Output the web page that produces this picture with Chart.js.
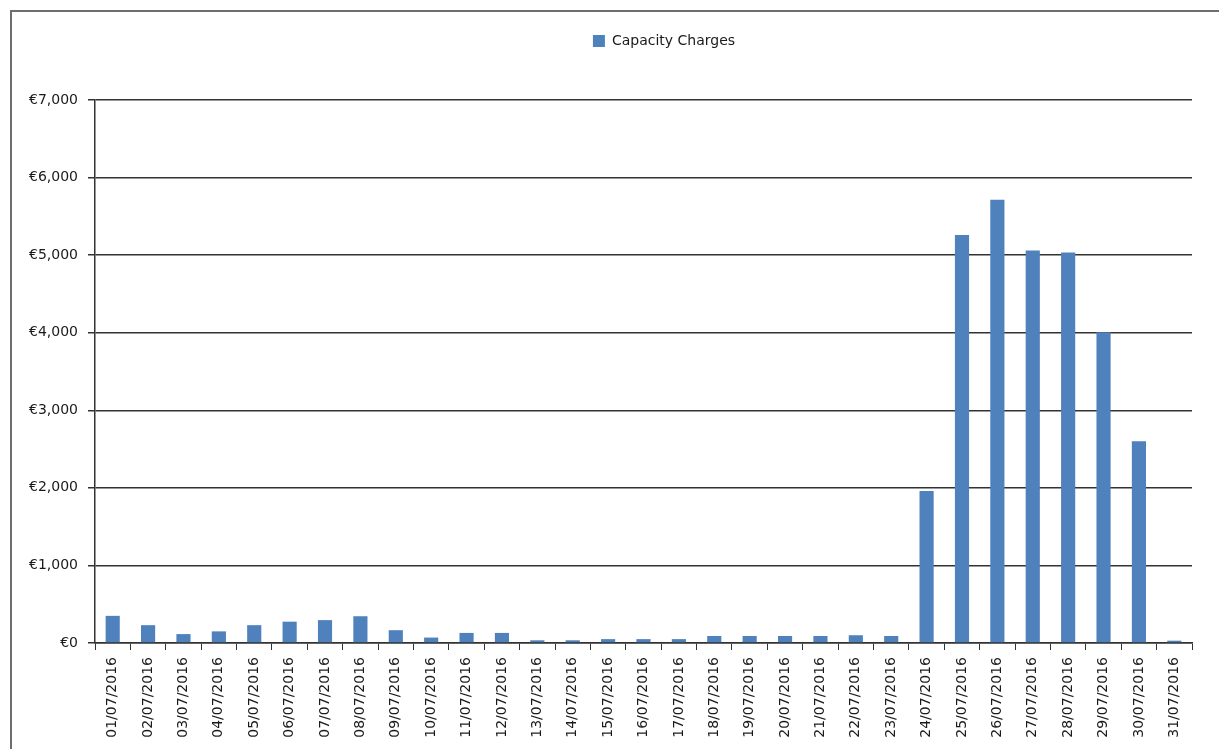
<!DOCTYPE html>
<html>
<head>
<meta charset="utf-8">
<script src="https://cdn.jsdelivr.net/npm/chart.js@4"></script>
<style>
  html, body { margin: 0; padding: 0; background: #fff; overflow: hidden; }
  #frame {
    position: absolute; left: 10px; top: 10px;
    width: 1300px; height: 800px;
    border: 2px solid #6e6e6e; box-sizing: border-box;
  }
  #wrap { position: absolute; left: 0; top: 0; width: 1219px; height: 749px; }
</style>
</head>
<body>
<div id="frame"></div>
<div id="wrap"><canvas id="capacity-chart"></canvas></div>
<script>
// 
// Daily capacity charges, July 2016
// 

const days = [
  "01/07/2016", "02/07/2016", "03/07/2016", "04/07/2016", "05/07/2016", "06/07/2016",
  "07/07/2016", "08/07/2016", "09/07/2016", "10/07/2016", "11/07/2016", "12/07/2016",
  "13/07/2016", "14/07/2016", "15/07/2016", "16/07/2016", "17/07/2016", "18/07/2016",
  "19/07/2016", "20/07/2016", "21/07/2016", "22/07/2016", "23/07/2016", "24/07/2016",
  "25/07/2016", "26/07/2016", "27/07/2016", "28/07/2016", "29/07/2016", "30/07/2016",
  "31/07/2016"
];
const capacityCharges = [
  350, 230, 115, 150, 230, 275,
  295, 345, 165, 70, 130, 130,
  35, 35, 50, 50, 50, 90,
  90, 90, 90, 100, 90, 1960,
  5260, 5715, 5060, 5035, 4005, 2600,
  30
];
const yTicks = [0, 1000, 2000, 3000, 4000, 5000, 6000, 7000];

const textColor = "#1a1a1a";
const lineColor = "#333";
const axisFont = { family: "DejaVu Sans", size: 14 };

// legend sits a little right of centre
const legendShift = {
  id: "legendShift",
  afterLayout(chart) {
    chart.legend.left += 63;
    chart.legend.right += 63;
  }
};

new Chart("capacity-chart", {
  type: "bar",
  data: {
    labels: days,
    datasets: [{
      label: "Capacity Charges",
      data: capacityCharges,
      backgroundColor: "#4F81BD",
      borderWidth: 0,
      categoryPercentage: 1,
      barPercentage: 0.4
    }]
  },
  options: {
    responsive: true,
    maintainAspectRatio: false,
    animation: false,
    layout: { padding: { left: 10, top: 10, right: 27, bottom: 0 } },
    plugins: {
      legend: {
        position: "top",
        labels: {
          boxWidth: 12,
          boxHeight: 12,
          padding: 24,
          color: textColor,
          font: axisFont
        }
      },
      // empty title used as a spacer between legend and plot
      title: {
        display: true,
        text: "",
        weight: 500,
        font: { size: 10, lineHeight: 1 },
        padding: { top: 0, bottom: 32 }
      },
      tooltip: { enabled: false }
    },
    scales: {
      x: {
        grid: {
          offset: true,
          drawOnChartArea: false,
          drawTicks: true,
          tickLength: 7,
          color: lineColor
        },
        border: { display: true, color: lineColor, width: 1.5 },
        ticks: {
          autoSkip: false,
          maxRotation: 90,
          minRotation: 90,
          padding: 7,
          color: textColor,
          font: axisFont
        },
        afterFit(scale) { scale.height = 106; }
      },
      y: {
        min: 0,
        max: 7000,
        afterBuildTicks(scale) {
          scale.ticks = yTicks.map(v => ({ value: v }));
        },
        grid: {
          color: lineColor,
          lineWidth: 1.5,
          drawTicks: true,
          tickLength: 7
        },
        border: { display: true, color: lineColor, width: 1.5 },
        ticks: {
          padding: 10,
          color: textColor,
          font: axisFont,
          callback: v => "€" + v.toLocaleString("en-US")
        },
        afterFit(scale) { scale.width = 85; }
      }
    }
  },
  plugins: [legendShift]
});
</script>
</body>
</html>
